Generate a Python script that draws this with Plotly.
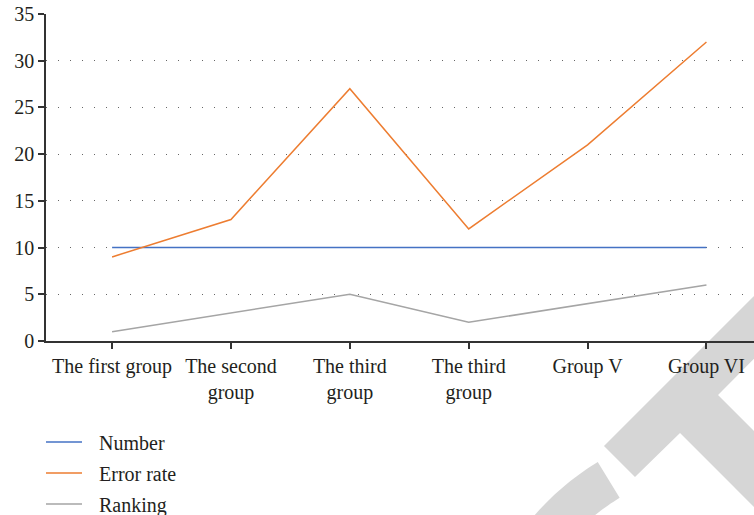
import math
import plotly.graph_objects as go

categories = ["The first group", "The second<br>group", "The third<br>group",
              "The third<br>group", "Group V", "Group VI"]
number = [10, 10, 10, 10, 10, 10]
error_rate = [9, 13, 27, 12, 21, 32]
ranking = [1, 3, 5, 2, 4, 6]

W, H = 754, 515
ML, MR, MT, MB = 46, 0, 14, 174
PW, PH = W - ML - MR, H - MT - MB

FONT = "Liberation Serif"
TXT = "#231f20"

x = list(range(len(categories)))
series = [("Number", number, "#4472C4"),
          ("Error rate", error_rate, "#ED7D31"),
          ("Ranking", ranking, "#A5A5A5")]

fig = go.Figure()
for name, vals, col in series:
    fig.add_trace(go.Scatter(x=x, y=vals, mode="lines", name=name,
                             line=dict(color=col, width=1.5)))


def px(xp, yp):
    return (xp - ML) / PW, (H - MB - yp) / PH


def path(points):
    s = ""
    for i, (a, b) in enumerate(points):
        u, v = px(a, b)
        s += ("M" if i == 0 else "L") + f"{u:.4f},{v:.4f} "
    return s + "Z"


# light gray emblem in the lower right corner
band = [(604, 446), (800, 250), (831, 281), (718, 395), (900, 577),
        (862, 615), (680, 433), (635, 477)]
cx, cy = 740, 695
r_out, r_in = 273, 231
a0, a1 = math.radians(212), math.radians(238.6)
n = 30
outer = [(cx + r_out * math.cos(a0 + (a1 - a0) * t / n),
          cy + r_out * math.sin(a0 + (a1 - a0) * t / n)) for t in range(n + 1)]
inner = [(cx + r_in * math.cos(a1 - (a1 - a0) * t / n),
          cy + r_in * math.sin(a1 - (a1 - a0) * t / n)) for t in range(n + 1)]
shapes = [
    dict(type="path", path=path(band), xref="paper", yref="paper",
         fillcolor="#d6d6d6", line=dict(width=0), layer="below"),
    dict(type="path", path=path(outer + inner), xref="paper", yref="paper",
         fillcolor="#d6d6d6", line=dict(width=0), layer="below"),
]

# legend below the chart: a short line sample and the series name
annotations = []
for i, (name, _, col) in enumerate(series):
    row_y = 442 + 31 * i
    x0, y0 = px(46, row_y)
    x1, _ = px(82, row_y)
    shapes.append(dict(type="line", xref="paper", yref="paper",
                       x0=x0, x1=x1, y0=y0, y1=y0,
                       line=dict(color=col, width=1.5)))
    tx, ty = px(97, row_y + 1)
    annotations.append(dict(text=name, xref="paper", yref="paper",
                            x=tx, y=ty, xanchor="left", yanchor="middle",
                            showarrow=False,
                            font=dict(family=FONT, size=20, color=TXT)))

fig.update_layout(
    width=W, height=H,
    margin=dict(l=ML, r=MR, t=MT, b=MB, pad=0, autoexpand=False),
    paper_bgcolor="white", plot_bgcolor="rgba(0,0,0,0)",
    font=dict(family=FONT, size=20, color=TXT),
    shapes=shapes,
    annotations=annotations,
    showlegend=False,
    xaxis=dict(range=[-0.556, 5.40], tickmode="array", tickvals=x,
               ticktext=categories, showgrid=False, zeroline=False,
               showline=True, linecolor="#333", linewidth=1.5,
               ticks="outside", ticklen=6, tickwidth=1.5, tickcolor="#333",
               tickfont=dict(family=FONT, size=20, color=TXT)),
    yaxis=dict(range=[0, 35], tickmode="linear", tick0=0, dtick=5,
               showgrid=True, gridcolor="#666", gridwidth=1.3,
               griddash="1.3px,10.7px", zeroline=False,
               showline=True, linecolor="#333", linewidth=1.5,
               ticks="outside", ticklen=6, tickwidth=1.5, tickcolor="#333",
               tickfont=dict(family=FONT, size=20, color=TXT)),
)

fig.write_html("out.html")
